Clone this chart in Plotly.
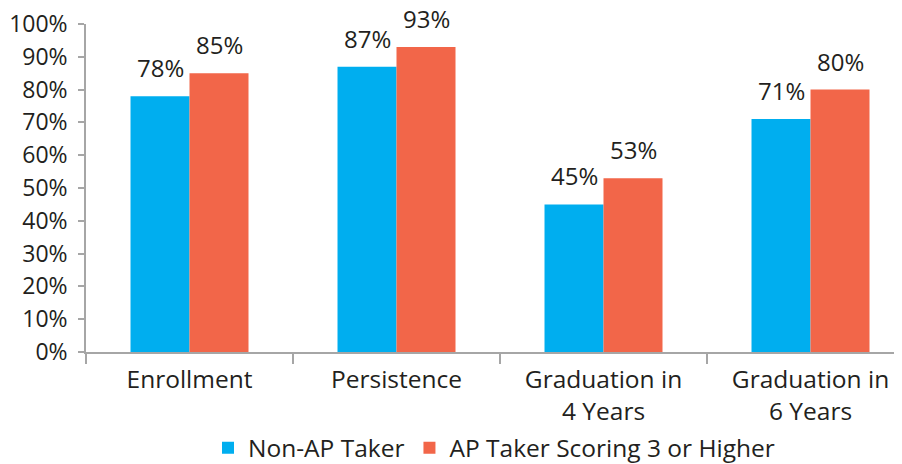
import plotly.graph_objects as go

categories = ["Enrollment", "Persistence", "Graduation in<br>4 Years", "Graduation in<br>6 Years"]
non_ap = [78, 87, 45, 71]
ap_3plus = [85, 93, 53, 80]
series_names = ["Non-AP Taker", "AP Taker Scoring 3 or Higher"]
colors = ["#00aeef", "#f26649"]

FONT = "Open Sans, Liberation Sans, Arial, sans-serif"
TXT = "#231f20"
AXC = "#a6a6a6"

# the page body adds an 8px offset; size the figure to fill the 902x464 window
OFF = 8
W, H = 902 - OFF, 464 - OFF

fig = go.Figure()
for name, vals, col in zip(series_names, [non_ap, ap_3plus], colors):
    fig.add_trace(go.Bar(
        x=categories, y=[v / 100 for v in vals], name=name,
        marker=dict(color=col, line=dict(width=0)),
    ))

# value labels above bars
for k, vals in enumerate([non_ap, ap_3plus]):
    for c, v in zip(categories, vals):
        fig.add_annotation(x=c, y=v / 100, text=f"{v}%", showarrow=False,
                           xanchor="center", yanchor="bottom",
                           xshift=(-29.5 if k == 0 else 29.5), yshift=10,
                           font=dict(size=24, color=TXT, family=FONT))

fig.update_layout(
    width=W, height=H,
    margin=dict(l=86 - OFF, r=0, t=24 - OFF, b=H - (352 - OFF), autoexpand=False),
    paper_bgcolor="white", plot_bgcolor="white",
    barmode="group", bargap=0.43, bargroupgap=0,
    font=dict(family=FONT, size=23, color=TXT),
    showlegend=True,
    legend=dict(orientation="h", x=0.5, xanchor="center",
                y=-0.292, yanchor="middle", bgcolor="rgba(0,0,0,0)",
                font=dict(size=24.5, color=TXT, family=FONT), traceorder="normal"),
)
fig.update_xaxes(
    range=[-0.5, 3.442], showline=True, linecolor=AXC, linewidth=1.5,
    ticks="outside", tickson="boundaries", ticklen=10, tickcolor=AXC, tickwidth=1.5,
    ticklabelstandoff=5, ticklabeloverflow="allow",
    tickfont=dict(size=24.5, color=TXT), showgrid=False, automargin=False,
)
fig.update_yaxes(
    range=[0, 1], tickformat=".0%", dtick=0.1, showline=True, linecolor=AXC,
    linewidth=1.5, ticks="outside", ticklen=6, tickcolor=AXC, tickwidth=1.5,
    ticklabelstandoff=6, ticklabeloverflow="allow",
    tickfont=dict(size=23, color=TXT), showgrid=False, zeroline=False, automargin=False,
)
fig.write_html("out.html")
